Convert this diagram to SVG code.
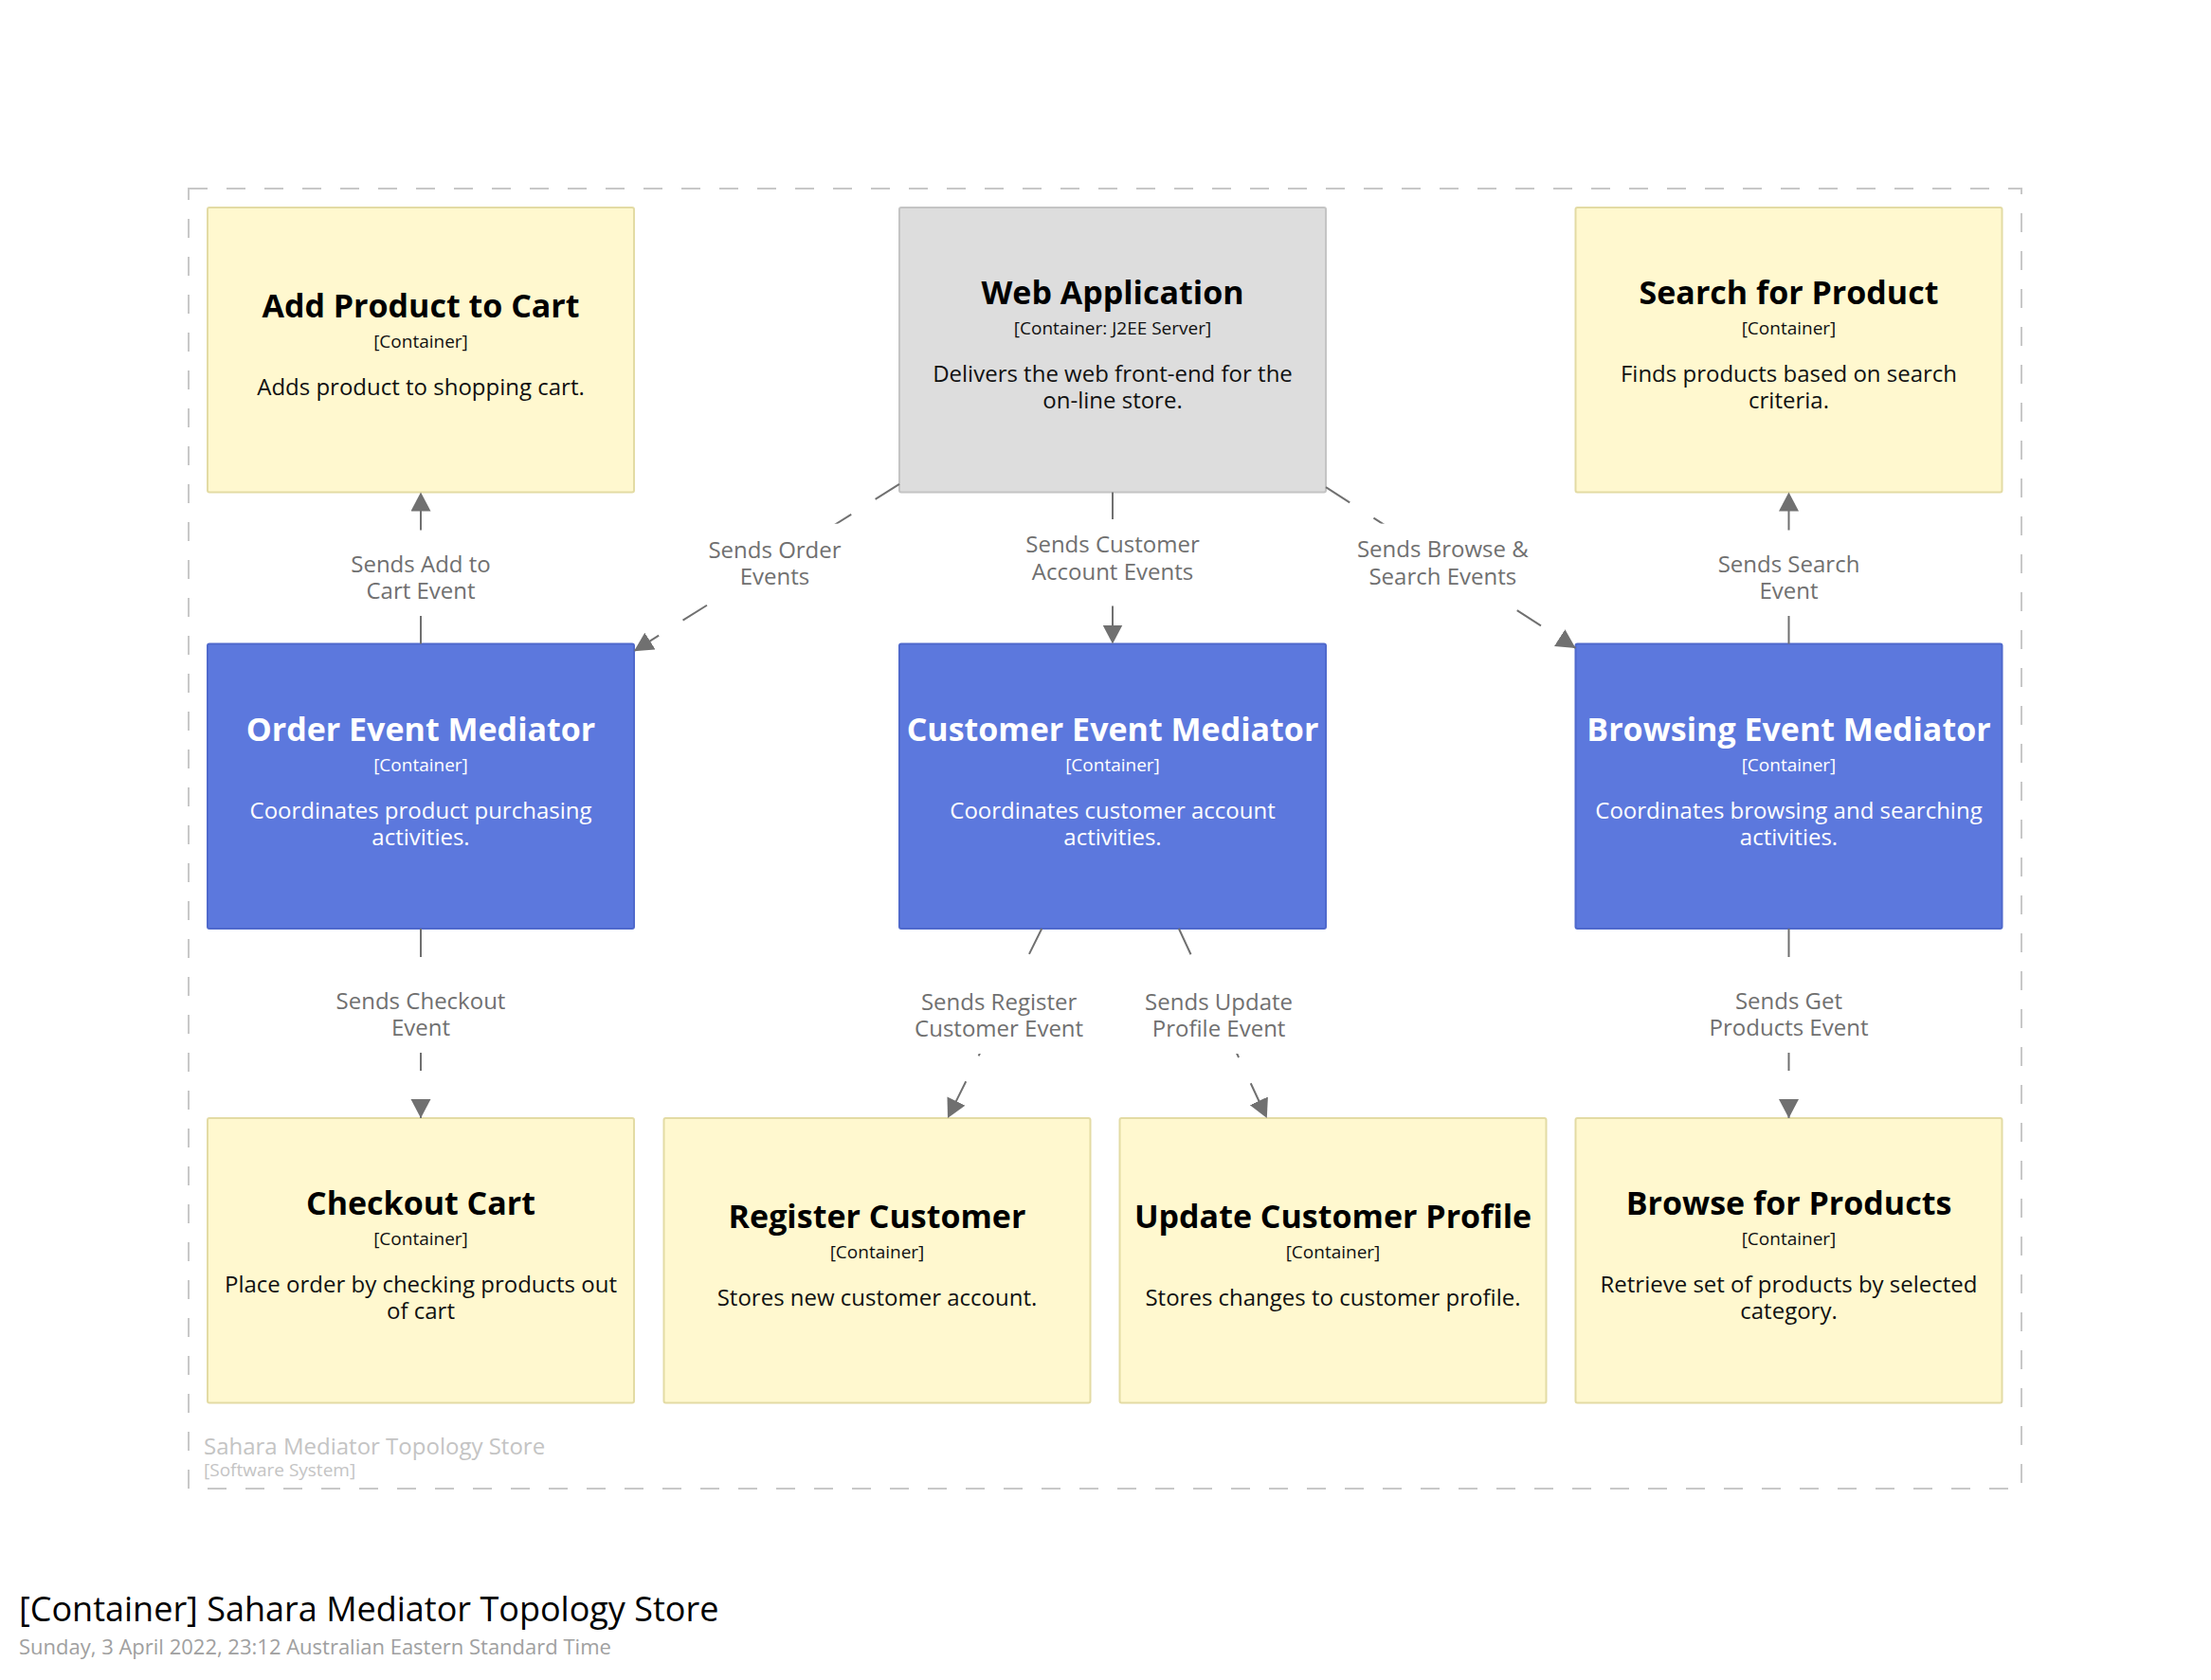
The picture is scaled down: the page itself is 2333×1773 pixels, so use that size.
<svg xmlns="http://www.w3.org/2000/svg" width="2333" height="1773" viewBox="0 0 2333 1773">
<style>
text{font-family:"Open Sans","Liberation Sans",sans-serif;text-anchor:middle}
.yel{fill:#fff8cf;stroke:#e3dba4;stroke-width:2}
.gry{fill:#dddddd;stroke:#c4c4c4;stroke-width:2}
.blu{fill:#5c78dd;stroke:#4f69cc;stroke-width:2}
.t{font-size:34px;font-weight:bold;fill:#000}
.m{font-size:19px;fill:#111}
.d{font-size:24px;fill:#111}
.w .t,.w .m,.w .d{fill:#fff}
.rel{stroke:#707070;stroke-width:2;fill:none;stroke-dasharray:30 30;marker-end:url(#arr)}
.lbg{fill:#fff}
.lt{font-size:24px;fill:#707070}
</style>
<defs>
<marker id="arr" markerUnits="userSpaceOnUse" markerWidth="22" markerHeight="22" refX="20" refY="10.5" orient="auto">
<path d="M0,0 L20,10.5 L0,21 Z" fill="#707070"/>
</marker>
</defs>
<rect width="2333" height="1773" fill="#fff"/>
<g id="boundary">
<rect x="199" y="199" width="1934" height="1372" fill="none" stroke="#c8c8c8" stroke-width="2" stroke-dasharray="20 20"/>
<text x="215" y="1535" style="text-anchor:start;font-size:24px;fill:#c4c4c4">Sahara Mediator Topology Store</text>
<text x="215" y="1558" style="text-anchor:start;font-size:19px;fill:#c4c4c4">[Software System]</text>
</g>
<g id="add-product">
<rect class="yel" x="219" y="219" width="450" height="300.5" rx="2"/>
<text class="t" x="444" y="334.5">Add Product to Cart</text>
<text class="m" x="444" y="367">[Container]</text>
<text class="d" x="444" y="417">Adds product to shopping cart.</text>
</g>
<g id="web-application">
<rect class="gry" x="949" y="219" width="450" height="300.5" rx="2"/>
<text class="t" x="1174" y="321">Web Application</text>
<text class="m" x="1174" y="353">[Container: J2EE Server]</text>
<text class="d" x="1174" y="403">Delivers the web front-end for the</text>
<text class="d" x="1174" y="431">on-line store.</text>
</g>
<g id="search-product">
<rect class="yel" x="1662.5" y="219" width="450" height="300.5" rx="2"/>
<text class="t" x="1887.5" y="321">Search for Product</text>
<text class="m" x="1887.5" y="353">[Container]</text>
<text class="d" x="1887.5" y="403">Finds products based on search</text>
<text class="d" x="1887.5" y="431">criteria.</text>
</g>
<g id="order-mediator" class="w">
<rect class="blu" x="219" y="679.5" width="450" height="300.5" rx="2"/>
<text class="t" x="444" y="781.5">Order Event Mediator</text>
<text class="m" x="444" y="813.5">[Container]</text>
<text class="d" x="444" y="863.5">Coordinates product purchasing</text>
<text class="d" x="444" y="891.5">activities.</text>
</g>
<g id="customer-mediator" class="w">
<rect class="blu" x="949" y="679.5" width="450" height="300.5" rx="2"/>
<text class="t" x="1174" y="781.5">Customer Event Mediator</text>
<text class="m" x="1174" y="813.5">[Container]</text>
<text class="d" x="1174" y="863.5">Coordinates customer account</text>
<text class="d" x="1174" y="891.5">activities.</text>
</g>
<g id="browsing-mediator" class="w">
<rect class="blu" x="1662.5" y="679.5" width="450" height="300.5" rx="2"/>
<text class="t" x="1887.5" y="781.5">Browsing Event Mediator</text>
<text class="m" x="1887.5" y="813.5">[Container]</text>
<text class="d" x="1887.5" y="863.5">Coordinates browsing and searching</text>
<text class="d" x="1887.5" y="891.5">activities.</text>
</g>
<g id="checkout-cart">
<rect class="yel" x="219" y="1180" width="450" height="300.5" rx="2"/>
<text class="t" x="444" y="1282">Checkout Cart</text>
<text class="m" x="444" y="1314">[Container]</text>
<text class="d" x="444" y="1364">Place order by checking products out</text>
<text class="d" x="444" y="1392">of cart</text>
</g>
<g id="register-customer">
<rect class="yel" x="700.5" y="1180" width="450" height="300.5" rx="2"/>
<text class="t" x="925.5" y="1295.5">Register Customer</text>
<text class="m" x="925.5" y="1328">[Container]</text>
<text class="d" x="925.5" y="1378">Stores new customer account.</text>
</g>
<g id="update-profile">
<rect class="yel" x="1181.5" y="1180" width="450" height="300.5" rx="2"/>
<text class="t" x="1406.5" y="1295.5">Update Customer Profile</text>
<text class="m" x="1406.5" y="1328">[Container]</text>
<text class="d" x="1406.5" y="1378">Stores changes to customer profile.</text>
</g>
<g id="browse-products">
<rect class="yel" x="1662.5" y="1180" width="450" height="300.5" rx="2"/>
<text class="t" x="1887.5" y="1282">Browse for Products</text>
<text class="m" x="1887.5" y="1314">[Container]</text>
<text class="d" x="1887.5" y="1364">Retrieve set of products by selected</text>
<text class="d" x="1887.5" y="1392">category.</text>
</g>
<g id="connectors">
<line class="rel" x1="949" y1="510.8" x2="669" y2="687.2"/>
<line class="rel" x1="1174" y1="519.5" x2="1174" y2="679.5"/>
<line class="rel" x1="1399" y1="514.1" x2="1662.5" y2="683.9"/>
<line class="rel" x1="444" y1="679.5" x2="444" y2="519.5"/>
<line class="rel" x1="1887.5" y1="679.5" x2="1887.5" y2="519.5"/>
<line class="rel" x1="444" y1="980" x2="444" y2="1180"/>
<line class="rel" x1="1099.3" y1="980" x2="1000" y2="1180"/>
<line class="rel" x1="1243.9" y1="980" x2="1336.8" y2="1180"/>
<line class="rel" x1="1887.5" y1="980" x2="1887.5" y2="1180"/>
<rect class="lbg" x="738" y="552.7" width="159" height="82"/>
<text class="lt" x="817.5" y="588.5">Sends Order</text>
<text class="lt" x="817.5" y="617">Events</text>
<rect class="lbg" x="1075" y="548" width="198" height="82"/>
<text class="lt" x="1174" y="583.3">Sends Customer</text>
<text class="lt" x="1174" y="611.8">Account Events</text>
<rect class="lbg" x="1424" y="552.6" width="197" height="82"/>
<text class="lt" x="1522.3" y="588.3">Sends Browse &amp;</text>
<text class="lt" x="1522.3" y="617.2">Search Events</text>
<rect class="lbg" x="362" y="568" width="164" height="82"/>
<text class="lt" x="444" y="603.5">Sends Add to</text>
<text class="lt" x="444" y="632.3">Cart Event</text>
<rect class="lbg" x="1804" y="568" width="167" height="82"/>
<text class="lt" x="1887.5" y="603.5">Sends Search</text>
<text class="lt" x="1887.5" y="632.3">Event</text>
<rect class="lbg" x="355" y="1029" width="178" height="82"/>
<text class="lt" x="444" y="1064.5">Sends Checkout</text>
<text class="lt" x="444" y="1093.3">Event</text>
<rect class="lbg" x="965" y="1030" width="178" height="82"/>
<text class="lt" x="1054.1" y="1065.8">Sends Register</text>
<text class="lt" x="1054.1" y="1094.4">Customer Event</text>
<rect class="lbg" x="1207" y="1030" width="158" height="82"/>
<text class="lt" x="1286.1" y="1065.8">Sends Update</text>
<text class="lt" x="1286.1" y="1094.4">Profile Event</text>
<rect class="lbg" x="1803" y="1029" width="169" height="82"/>
<text class="lt" x="1887.5" y="1064.5">Sends Get</text>
<text class="lt" x="1887.5" y="1093.3">Products Event</text>
</g>
<g id="title">
<text x="20" y="1711" style="text-anchor:start;font-size:36px;fill:#000">[Container] Sahara Mediator Topology Store</text>
<text x="20" y="1746" style="text-anchor:start;font-size:22px;fill:#a0a0a0">Sunday, 3 April 2022, 23:12 Australian Eastern Standard Time</text>
</g>
</svg>
